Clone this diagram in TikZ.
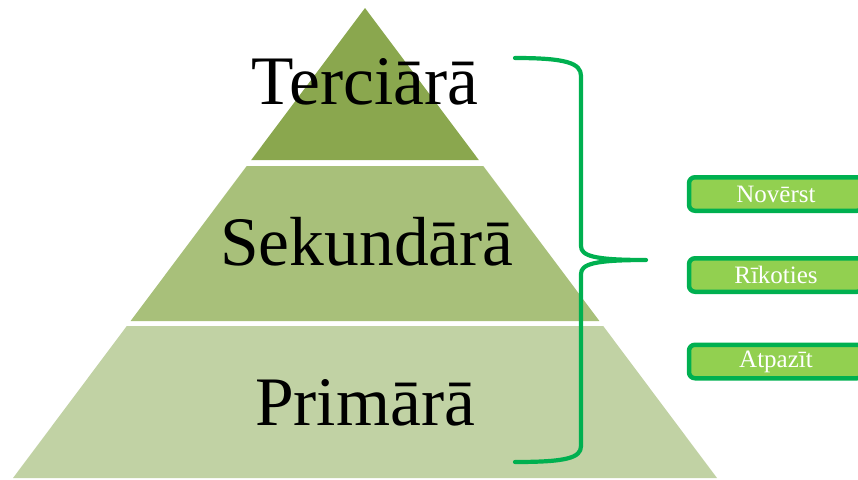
\documentclass[tikz,border=0pt]{standalone}
\usepackage{fontspec}
\setmainfont{Liberation Serif}
\usetikzlibrary{positioning}
\definecolor{tiertop}{HTML}{8AA74E}
\definecolor{tiermid}{HTML}{A8C07A}
\definecolor{tierlow}{HTML}{C1D2A4}
\definecolor{bracegreen}{HTML}{00B050}
\definecolor{boxgreen}{HTML}{92D050}
\tikzset{
  tierlabel/.style={anchor=base, inner sep=0pt, font=\fontsize{69.5}{69.5}\selectfont, text=black},
  actionbox/.style={draw=bracegreen, line width=4.5pt, rounded corners=6pt, fill=boxgreen, minimum width=174pt, minimum height=33.5pt, inner sep=0pt, text=white, font=\fontsize{25}{25}\selectfont},
  brace/.style={draw=bracegreen, line width=4.2pt, line cap=round, line join=round}
}
\begin{document}
\begin{tikzpicture}[x=1pt, y=-1pt]
  \useasboundingbox (0,0) rectangle (858,479);
  \clip (0,0) rectangle (858,479);

  % pyramid tiers
  \fill[tiertop] (365,8) -- (478.8,160) -- (251.2,160) -- cycle;
  \fill[tiermid] (246.7,166) -- (483.3,166) -- (599.4,321) -- (130.6,321) -- cycle;
  \fill[tierlow] (126.8,326) -- (603.2,326) -- (717.0,478) -- (13.0,478) -- cycle;

  \node[tierlabel] (tertiary) at (365,104) {Terciārā};
  \node[tierlabel] (secondary) at (367,265) {Sekundārā};
  \node[tierlabel] (primary) at (365,425) {Primārā};

  % curly brace
  \draw[brace] (515,58) .. controls (566,58) and (581,63) .. (581,76) -- (581,246)
    .. controls (581,256) and (594,260) .. (646,260)
    .. controls (594,260) and (581,264) .. (581,274) -- (581,446)
    .. controls (581,458) and (566,462) .. (515,462);

  % actions
  \node[actionbox] (prevent) at (776,194) {Novērst};
  \node[actionbox] (act) at (776,275) {Rīkoties};
  \node[actionbox] (recognise) at (776,361.5) {Atpazīt};
\end{tikzpicture}
\end{document}
